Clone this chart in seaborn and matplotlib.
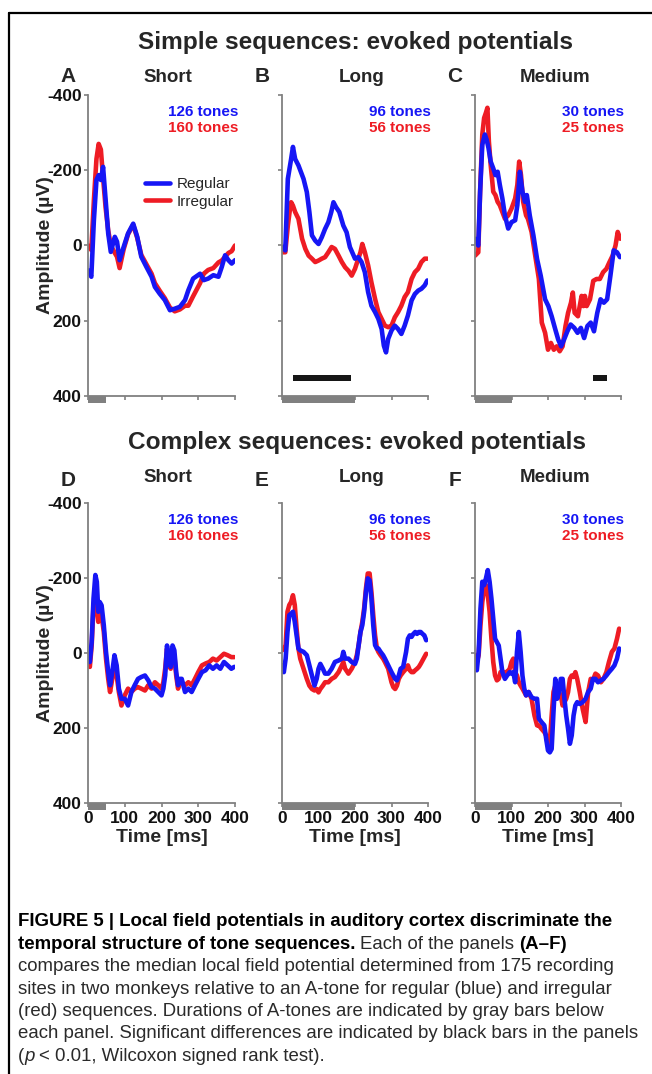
import matplotlib
matplotlib.use("Agg")
import matplotlib.pyplot as plt
import seaborn as sns
from matplotlib.patches import Rectangle
from matplotlib.lines import Line2D

sns.set_style("ticks")
plt.rcParams['font.family'] = ['Liberation Sans', 'DejaVu Sans']
plt.rcParams['axes.unicode_minus'] = False

# ---------------- data ----------------
# Panel A - simple, short
a_time = [0, 9, 16, 23, 29, 35, 41, 48, 55, 62, 73, 79, 86, 97, 109, 123, 134, 145, 159, 173,
          182, 195, 209, 223, 236, 250, 264, 273, 286, 305, 315, 327, 341, 355, 364, 373, 382, 391, 400]
a_regular = [66, 83, -67, -174, -187, -174, -209, -121, -32, 17, -23, -10, 39, 4, -32, -58, -23, 30, 57, 83,
             110, 128, 145, 172, 168, 163, 145, 119, 88, 75, 92, 88, 79, 83, 57, 26, 39, 48, 39]
a_irregular = [0, 12, -120, -230, -270, -255, -180, -100, -40, 0, 20, 30, 60, 10, -30, -55, -20, 25, 50, 75,
               100, 120, 140, 165, 175, 170, 160, 160, 135, 100, 75, 65, 60, 45, 40, 30, 20, 15, 0]

# Panel B - simple, long
b_time_reg = [2, 9, 16, 25, 30, 36, 45, 59, 68, 75, 82, 91, 100, 109, 118, 127, 135, 141, 148, 157,
              168, 177, 186, 200, 209, 218, 227, 236, 245, 255, 264, 273, 279, 285, 291, 300, 309, 318,
              327, 336, 345, 355, 364, 373, 382, 391, 398]
b_regular = [4, 13, -177, -230, -262, -230, -213, -177, -142, -89, -27, -13, -4, -22, -44, -62, -89, -115, -102, -89,
             -53, -35, 4, 35, 31, 44, 71, 124, 160, 177, 195, 222, 266, 284, 248, 226, 213, 222,
             235, 213, 186, 146, 129, 120, 115, 106, 93]
b_time_irr = [0, 9, 16, 22, 25, 30, 36, 45, 55, 64, 73, 82, 91, 100, 109, 118, 127, 136, 145, 155,
              164, 173, 182, 191, 200, 209, 215, 220, 227, 236, 245, 255, 264, 273, 282, 291, 300, 309,
              318, 327, 336, 345, 355, 364, 373, 382, 391, 398]
b_irregular = [18, 18, -53, -98, -115, -106, -89, -71, -18, 9, 27, 35, 44, 40, 35, 31, 18, 4, 9, 27,
               44, 58, 67, 80, 62, 35, 18, -4, 18, 53, 98, 142, 177, 195, 213, 217, 213, 191,
               177, 160, 137, 124, 89, 71, 62, 44, 35, 35]

# Panel C - simple, medium
c_time_reg = [0, 9, 14, 20, 27, 32, 37, 43, 50, 56, 62, 68, 75, 82, 91, 100, 110, 116, 123, 130,
              137, 142, 150, 160, 170, 180, 192, 201, 210, 220, 228, 236, 244, 253, 262, 272, 281, 290,
              299, 308, 317, 326, 335, 344, 353, 362, 371, 380, 389, 397]
c_regular = [-18, 0, -143, -268, -295, -281, -259, -223, -205, -187, -196, -161, -125, -80, -45, -62, -67, -107, -196, -143,
             -116, -134, -80, -27, 36, 80, 143, 161, 188, 223, 250, 268, 250, 228, 210, 219, 232, 219,
             246, 214, 205, 228, 179, 143, 152, 143, 80, 13, 18, 31]
c_time_irr = [0, 9, 14, 20, 25, 30, 34, 38, 43, 50, 56, 62, 68, 75, 82, 91, 100, 110, 116, 121,
              126, 132, 140, 145, 155, 165, 175, 183, 192, 200, 208, 216, 224, 232, 240, 248, 255, 263,
              268, 273, 282, 292, 297, 301, 306, 315, 324, 333, 342, 351, 360, 368, 377, 385, 391, 398]
c_irregular = [27, 18, -143, -295, -339, -353, -366, -277, -214, -143, -134, -116, -107, -89, -71, -80, -98, -125, -161, -223,
               -187, -116, -80, -71, -36, 27, 89, 205, 232, 277, 259, 277, 268, 281, 268, 214, 179, 152,
               125, 179, 188, 134, 161, 134, 161, 143, 94, 89, 89, 71, 62, 45, 27, 0, -36, -18]

# Panel D - complex, short
d_time = [0, 5, 10, 15, 20, 24, 28, 32, 37, 43, 49, 55, 60, 66, 72, 78, 84, 91, 100, 109,
          118, 127, 136, 145, 155, 164, 173, 182, 191, 200, 205, 210, 215, 220, 225, 230, 235, 240,
          245, 250, 255, 264, 273, 282, 291, 300, 310, 320, 330, 340, 350, 360, 370, 380, 390, 398]
d_regular = [20, 24, -29, -145, -208, -190, -110, -136, -127, -74, -3, 51, 86, 51, 6, 33, 95, 122, 122, 140,
             104, 86, 69, 64, 60, 73, 91, 95, 104, 113, 95, 60, -20, 15, 37, -20, -7, 51,
             86, 69, 69, 104, 95, 104, 86, 69, 51, 46, 33, 42, 33, 42, 24, 33, 42, 37]
d_irregular = [24, 37, -20, -127, -154, -118, -83, -110, -100, -56, 15, 69, 104, 69, 33, 60, 104, 140, 113, 95,
               104, 95, 91, 95, 100, 86, 95, 78, 86, 95, 78, 42, -12, 33, 42, -3, 6, 60,
               95, 78, 78, 86, 78, 86, 69, 51, 33, 28, 24, 15, 20, 11, 2, 6, 11, 11]

# Panel E - complex, long
e_time = [0, 5, 10, 15, 20, 25, 30, 35, 40, 45, 50, 59, 68, 75, 82, 89, 95, 100, 105, 112,
          118, 127, 136, 145, 155, 164, 168, 173, 182, 191, 200, 205, 210, 215, 220, 225, 230, 235,
          240, 245, 250, 255, 260, 264, 270, 277, 282, 291, 300, 305, 310, 315, 320, 325, 332, 340,
          345, 350, 355, 360, 365, 370, 375, 380, 385, 390, 395]
e_regular = [33, 51, 15, -56, -101, -105, -110, -83, -47, -12, -7, -3, 6, 33, 60, 87, 69, 42, 29, 42,
             55, 55, 42, 24, 20, 15, -3, 15, 15, 24, 29, 15, -21, -56, -74, -110, -163, -199,
             -194, -145, -74, -21, -12, -12, -3, 6, 15, 33, 51, 60, 69, 73, 60, 42, 37, -3,
             -38, -47, -43, -51, -56, -51, -56, -56, -51, -47, -34]
e_irregular = [-7, -12, -21, -110, -128, -136, -154, -128, -65, -12, 15, 42, 69, 87, 96, 100, 96, 105, 96, 87,
               78, 78, 69, 64, 51, 33, 24, 42, 55, 42, 24, 6, -21, -56, -83, -119, -172, -212,
               -212, -163, -101, -47, -12, -3, 6, 15, 24, 42, 78, 91, 96, 87, 69, 60, 51, 42,
               33, 46, 51, 51, 46, 42, 37, 29, 20, 11, 2]

# Panel F - complex, medium
f_time = [0, 5, 10, 15, 20, 25, 30, 35, 40, 45, 50, 55, 60, 65, 70, 75, 82, 88, 95, 100,
          105, 110, 115, 120, 125, 130, 135, 140, 147, 155, 163, 170, 175, 182, 190, 195, 200, 205,
          210, 215, 220, 225, 230, 235, 240, 245, 250, 255, 260, 265, 270, 275, 280, 287, 295, 303,
          310, 317, 323, 330, 337, 345, 352, 360, 367, 375, 382, 389, 395]
f_regular = [33, 46, -3, -118, -190, -181, -199, -221, -190, -145, -92, -38, -29, -20, 15, 51, 69, 60, 51, 55,
             51, 78, -3, -56, -3, 60, 95, 113, 104, 118, 122, 122, 175, 184, 193, 229, 260, 265,
             256, 158, 69, 122, 104, 69, 69, 122, 167, 202, 242, 220, 167, 140, 131, 136, 131, 122,
             104, 95, 69, 69, 78, 73, 69, 60, 51, 42, 33, 15, -12]
f_irregular = [6, 24, 6, -74, -136, -172, -181, -154, -110, -38, 24, 60, 73, 69, 51, 51, 51, 51, 42, 24,
               15, 51, 60, 78, 87, 95, 104, 113, 104, 122, 167, 193, 193, 202, 211, 220, 247, 238,
               167, 104, 87, 95, 104, 113, 140, 131, 122, 104, 69, 60, 64, 51, 69, 104, 149, 184,
               104, 69, 73, 55, 60, 78, 69, 51, 24, -3, -12, -38, -65]

panel_letters = ['A', 'B', 'C', 'D', 'E', 'F']
panel_titles = ['Short', 'Long', 'Medium', 'Short', 'Long', 'Medium']
regular_counts = ['126 tones', '96 tones', '30 tones', '126 tones', '96 tones', '30 tones']
irregular_counts = ['160 tones', '56 tones', '25 tones', '160 tones', '56 tones', '25 tones']
tone_durations = [50, 200, 100, 50, 200, 100]   # ms, gray bars
significance = {1: (29, 188), 2: (324, 361)}      # ms, black bars (panel index -> span)
sig_level = 352
x_ticks = [0, 100, 200, 300, 400]
y_ticks = [-400, -200, 0, 200, 400]

caption_lines = [
    [("FIGURE 5 | Local field potentials in auditory cortex discriminate the", 'bold', 'normal')],
    [("temporal structure of tone sequences.", 'bold', 'normal'),
     ("Each of the panels", 'normal', 'normal'), ("(A\u2013F)", 'bold', 'normal')],
    [("compares the median local field potential determined from 175 recording", 'normal', 'normal')],
    [("sites in two monkeys relative to an A-tone for regular (blue) and irregular", 'normal', 'normal')],
    [("(red) sequences. Durations of A-tones are indicated by gray bars below", 'normal', 'normal')],
    [("each panel. Significant differences are indicated by black bars in the panels", 'normal', 'normal')],
    [("(", 'normal', 'normal'), ("p", 'normal', 'italic'),
     ("< 0.01, Wilcoxon signed rank test).", 'normal', 'normal')],
]

BLUE = '#1616f5'
RED = '#ee1c24'
GRAY = '#808080'

W, H = 652, 1074
fig = plt.figure(figsize=(W / 100, H / 100), dpi=100)


def px_axes(left, top, right, bottom):
    return fig.add_axes([left / W, 1 - bottom / H, (right - left) / W, (bottom - top) / H])


series = [
    (a_time, a_regular, a_time, a_irregular),
    (b_time_reg, b_regular, b_time_irr, b_irregular),
    (c_time_reg, c_regular, c_time_irr, c_irregular),
    (d_time, d_regular, d_time, d_irregular),
    (e_time, e_regular, e_time, e_irregular),
    (f_time, f_regular, f_time, f_irregular),
]
col_x = [(88, 235), (282, 428), (475, 621)]
row_y = [(95, 396), (503, 803)]

for i, (tr, reg, ti, irr) in enumerate(series):
    row, col = divmod(i, 3)
    left, right = col_x[col]
    top, bottom = row_y[row]
    ax = px_axes(left, top, right, bottom)

    sns.lineplot(x=ti, y=irr, ax=ax, color=RED, linewidth=3.3,
                 label='Irregular' if i == 0 else None, legend=False)
    sns.lineplot(x=tr, y=reg, ax=ax, color=BLUE, linewidth=3.3,
                 label='Regular' if i == 0 else None, legend=False)

    ax.set_xlim(0, 400)
    ax.set_ylim(400, -400)
    ax.set_xticks(x_ticks)
    ax.set_yticks(y_ticks)
    ax.set_xlabel('')
    ax.set_ylabel('')
    sns.despine(ax=ax)
    for s in ['left', 'bottom']:
        ax.spines[s].set_color(GRAY)
        ax.spines[s].set_linewidth(1.3)
    ax.tick_params(axis='both', color=GRAY, length=3, width=1.2, labelsize=12.5,
                   labelcolor='#111111')
    ax.tick_params(axis='y', pad=1.5)
    ax.tick_params(axis='x', pad=3)
    for lbl in ax.get_xticklabels() + ax.get_yticklabels():
        lbl.set_fontweight('bold')
    if row == 0:
        ax.tick_params(labelbottom=False)
    if col > 0:
        ax.tick_params(labelleft=False)

    # gray bar: duration of the A-tone
    ax.add_patch(Rectangle((0, 0), tone_durations[i], -0.024, transform=ax.get_xaxis_transform(),
                           facecolor=GRAY, edgecolor='none', clip_on=False, zorder=4))
    # black bar: significant difference
    if i in significance:
        s0, s1 = significance[i]
        ax.add_patch(Rectangle((s0, sig_level - 8), s1 - s0, 16, facecolor='#161616',
                               edgecolor='none', zorder=4))

    ax.text(1.02, 0.945, regular_counts[i], transform=ax.transAxes, ha='right', va='center',
            color=BLUE, fontsize=11, fontweight='bold')
    ax.text(1.02, 0.89, irregular_counts[i], transform=ax.transAxes, ha='right', va='center',
            color=RED, fontsize=11, fontweight='bold')

    fig.text((left - 20) / W, 1 - (top - 18 if row == 0 else top - 23) / H, panel_letters[i],
             ha='center', va='center', fontsize=15, fontweight='bold')
    fig.text((left + 80) / W, 1 - (top - 18 if row == 0 else top - 25) / H, panel_titles[i],
             ha='center', va='center', fontsize=13.5, fontweight='bold')

    if col == 0:
        ax.set_ylabel('Amplitude (\u00b5V)', fontsize=14, fontweight='bold')
        ax.yaxis.label.set_va('center')
        ax.yaxis.set_label_coords(-0.29, 0.5)
    if row == 1:
        ax.set_xlabel('Time [ms]', fontsize=14, fontweight='bold')
        ax.xaxis.set_label_coords(0.5, -0.085)

    if i == 0:
        handles, labels = ax.get_legend_handles_labels()
        order = [labels.index('Regular'), labels.index('Irregular')]
        ax.legend([handles[k] for k in order], [labels[k] for k in order],
                  loc='upper left', bbox_to_anchor=(0.39, 0.728), frameon=False,
                  borderpad=0, borderaxespad=0, handlelength=1.6, handletextpad=0.45,
                  labelspacing=0.25, fontsize=11)

fig.text(355 / W, 1 - 42 / H, 'Simple sequences: evoked potentials', ha='center', va='center',
         fontsize=17.6, fontweight='bold')
fig.text(357 / W, 1 - 442 / H, 'Complex sequences: evoked potentials', ha='center', va='center',
         fontsize=17.6, fontweight='bold')

# frame around the figure (top and left edges visible)
fig.add_artist(Line2D([9 / W, 1], [1 - 13 / H, 1 - 13 / H], color='black', linewidth=1.6))
fig.add_artist(Line2D([9 / W, 9 / W], [0, 1 - 13 / H], color='black', linewidth=1.6))

# caption with mixed bold / italic segments
renderer = fig.canvas.get_renderer()
cap_family = ['Liberation Sans', 'DejaVu Sans']
cap_size = 13.4
space_px = 4.6
for n, segs in enumerate(caption_lines):
    x = 18
    y = 922 + n * 22.4
    for k, (txt, weight, style) in enumerate(segs):
        if k > 0 and segs[k - 1][0] != '(':
            x += space_px
        t = fig.text(x / W, 1 - y / H, txt, ha='left', va='center', fontsize=cap_size,
                     fontweight=weight, fontstyle=style, family=cap_family,
                     color='#000000' if weight == 'bold' else '#2a2a2a')
        x += t.get_window_extent(renderer).width

fig.savefig('out.png', dpi=100)
